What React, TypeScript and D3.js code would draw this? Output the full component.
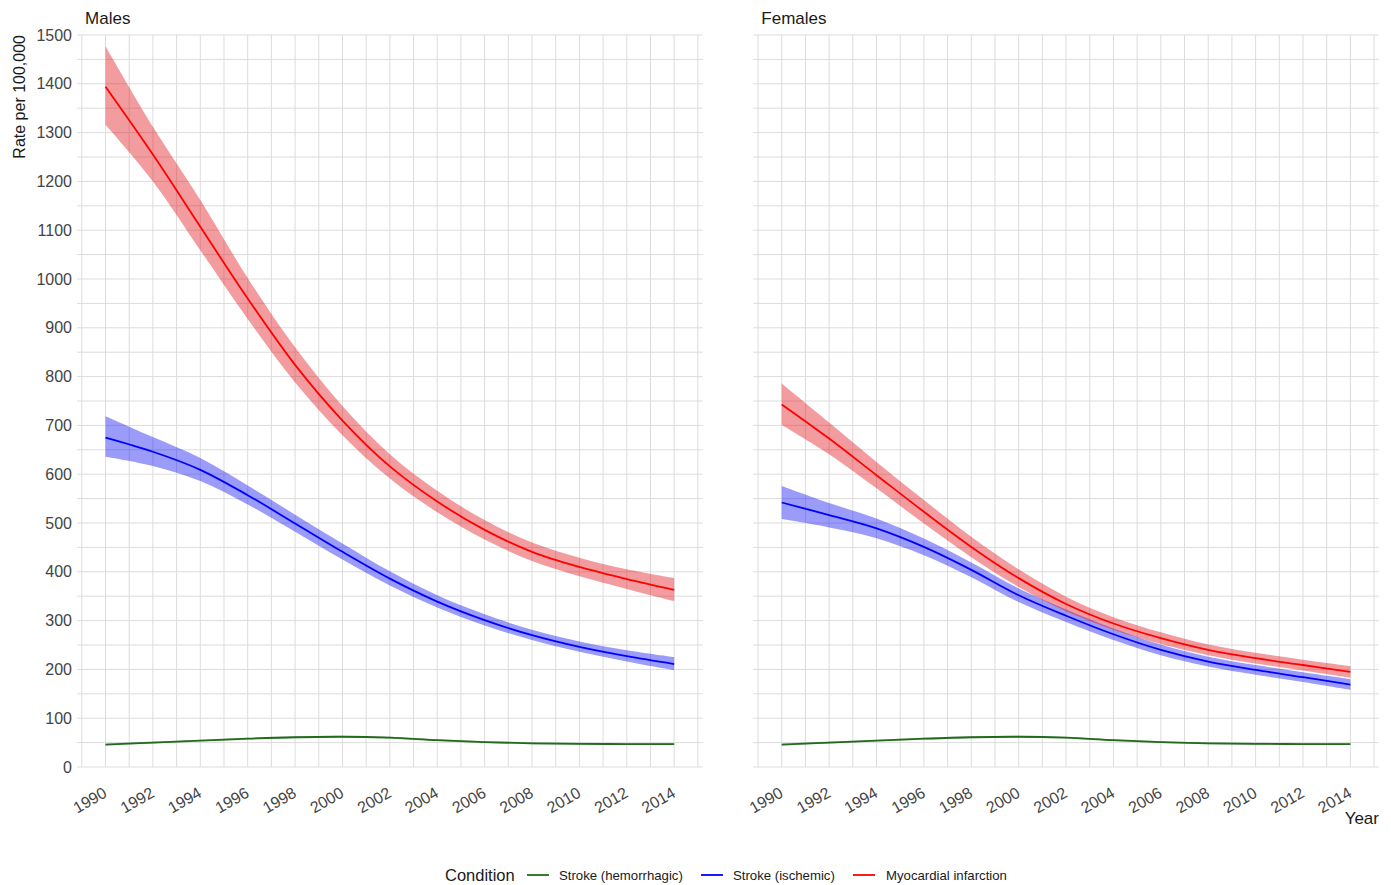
import React from "react";
import * as d3 from "d3";

const years = [1990, 1992, 1994, 1996, 1998, 2000, 2002, 2004, 2006, 2008, 2010, 2012, 2014];
const yTicks = [0, 100, 200, 300, 400, 500, 600, 700, 800, 900, 1000, 1100, 1200, 1300, 1400, 1500];
const conditions = ["Stroke (hemorrhagic)", "Stroke (ischemic)", "Myocardial infarction"];
const colors = ["#236b1c", "#0000ff", "#ff0000"];
const ribbonColors = ["#236b1c", "#1010f0", "#e3121b"];

// Males
const maleHemMid = [46, 50, 54, 58, 61, 62, 60, 55, 51, 48.5, 47.5, 47, 47];
const maleHemLo = [44, 48, 52, 56, 59, 60, 58, 53, 49, 46.5, 45.5, 45, 45];
const maleHemHi = [48, 52, 56, 60, 63, 64, 62, 57, 53, 50.5, 49.5, 49, 49];
const maleIscMid = [675, 646, 609, 557, 499, 441, 386, 339, 301, 270, 246, 227, 211];
const maleIscLo = [636, 617, 586, 538, 482, 425, 372, 327, 290, 260, 236, 216, 198];
const maleIscHi = [719, 676, 633, 577, 517, 458, 401, 352, 313, 281, 257, 239, 225];
const maleMIMid = [1394, 1255, 1107, 960, 824, 710, 616, 544, 486, 441, 410, 385, 363];
const maleMILo = [1316, 1200, 1059, 918, 788, 680, 591, 522, 466, 422, 391, 365, 340];
const maleMIHi = [1477, 1312, 1162, 1002, 860, 740, 641, 566, 506, 460, 429, 405, 387];

// Females
const femHemMid = [46, 50, 54, 58, 61, 62, 60, 55, 51, 48.5, 47.5, 47, 47];
const femHemLo = [44, 48, 52, 56, 59, 60, 58, 53, 49, 46.5, 45.5, 45, 45];
const femHemHi = [48, 52, 56, 60, 63, 64, 62, 57, 53, 50.5, 49.5, 49, 49];
const femIscMid = [542, 516, 489, 451, 404, 352, 310, 272, 240, 216, 199, 184, 169];
const femIscLo = [508, 491, 469, 434, 389, 338, 297, 260, 229, 206, 189, 174, 158];
const femIscHi = [576, 541, 509, 468, 419, 366, 323, 284, 251, 226, 209, 194, 180];
const femMIMid = [743, 673, 598, 523, 451, 387, 334, 294, 264, 240, 223, 209, 195];
const femMILo = [701, 641, 571, 499, 430, 369, 319, 281, 252, 229, 212, 198, 183];
const femMIHi = [786, 706, 625, 547, 472, 405, 349, 307, 276, 251, 234, 220, 207];

const panels = [
  {
    title: "Males",
    left: 77.1,
    series: [
      [maleHemMid, maleHemLo, maleHemHi],
      [maleIscMid, maleIscLo, maleIscHi],
      [maleMIMid, maleMILo, maleMIHi],
    ],
  },
  {
    title: "Females",
    left: 753.3,
    series: [
      [femHemMid, femHemLo, femHemHi],
      [femIscMid, femIscLo, femIscHi],
      [femMIMid, femMILo, femMIHi],
    ],
  },
];

const W = 1391;
const H = 885;
const panelW = 625.5;
const top = 35;
const bottom = 767;
const font = "'Liberation Sans', Arial, Helvetica, sans-serif";

const y = d3.scaleLinear().domain([0, 1500]).range([bottom, top]);
const yMinor = d3.range(0, 1501, 50);
const xMinor = d3.range(1989, 2016, 1);

function Panel({ p, showY }) {
  const x = d3.scaleLinear().domain([1988.8, 2015.2]).range([p.left, p.left + panelW]);
  const line = d3
    .line<number>()
    .x((d, i) => x(years[i]))
    .y((d) => y(d))
    .curve(d3.curveCatmullRom.alpha(0.5));
  const area = d3
    .area<number>()
    .x((d, i) => x(years[i]))
    .y0((d) => y(d))
    .curve(d3.curveCatmullRom.alpha(0.5));

  return (
    <g>
      {yMinor.map((v) => (
        <line key={"h" + v} x1={p.left} x2={p.left + panelW} y1={y(v)} y2={y(v)} stroke="#dcdcdc" strokeWidth={1} />
      ))}
      {xMinor.map((v) => (
        <line key={"v" + v} x1={x(v)} x2={x(v)} y1={top} y2={bottom} stroke="#dcdcdc" strokeWidth={1} />
      ))}
      {p.series.map((s, i) => {
        const [, lo, hi] = s;
        const a = area.y1((d, j) => y(hi[j]));
        return <path key={"r" + i} d={a(lo) || ""} fill={ribbonColors[i]} fillOpacity={i === 0 ? 0.3 : 0.42} stroke="none" />;
      })}
      {p.series.map((s, i) => (
        <path key={"l" + i} d={line(s[0]) || ""} fill="none" stroke={colors[i]} strokeWidth={1.8} />
      ))}
      {years.map((yr) => (
        <text
          key={"xt" + yr}
          transform={`translate(${x(yr) + 2.5},796) rotate(-30)`}
          textAnchor="end"
          fontSize={16}
          fill="#444"
          fontFamily={font}
        >
          {yr}
        </text>
      ))}
      {showY &&
        yTicks.map((v) => (
          <text key={"yt" + v} x={72} y={y(v)} dy="0.35em" textAnchor="end" fontSize={16} fill="#444" fontFamily={font}>
            {v}
          </text>
        ))}
      <text x={p.left + 8} y={24} fontSize={17} fill="#1a1a1a" fontFamily={font}>
        {p.title}
      </text>
    </g>
  );
}

export default function App() {
  const legendItems = [
    { dash: 527, text: 559 },
    { dash: 701, text: 733 },
    { dash: 853, text: 886 },
  ];
  return (
    <div style={{ position: "absolute", left: 0, top: 0 }}>
      <svg width={W} height={H} style={{ display: "block", background: "#fff" }}>
        {panels.map((p, i) => (
          <Panel key={p.title} p={p} showY={i === 0} />
        ))}
        <text transform="translate(25,35) rotate(-90)" textAnchor="end" fontSize={16} fill="#1a1a1a" fontFamily={font}>
          Rate per 100,000
        </text>
        <text x={1379} y={824} textAnchor="end" fontSize={17} fill="#1a1a1a" fontFamily={font}>
          Year
        </text>
        <text x={445} y={881} fontSize={16.5} fill="#1a1a1a" fontFamily={font}>
          Condition
        </text>
        {conditions.map((c, i) => (
          <g key={c}>
            <line x1={legendItems[i].dash} x2={legendItems[i].dash + 22} y1={875} y2={875} stroke={colors[i]} strokeWidth={1.8} />
            <text x={legendItems[i].text} y={880} fontSize={13.2} fill="#1a1a1a" fontFamily={font}>
              {c}
            </text>
          </g>
        ))}
      </svg>
    </div>
  );
}
